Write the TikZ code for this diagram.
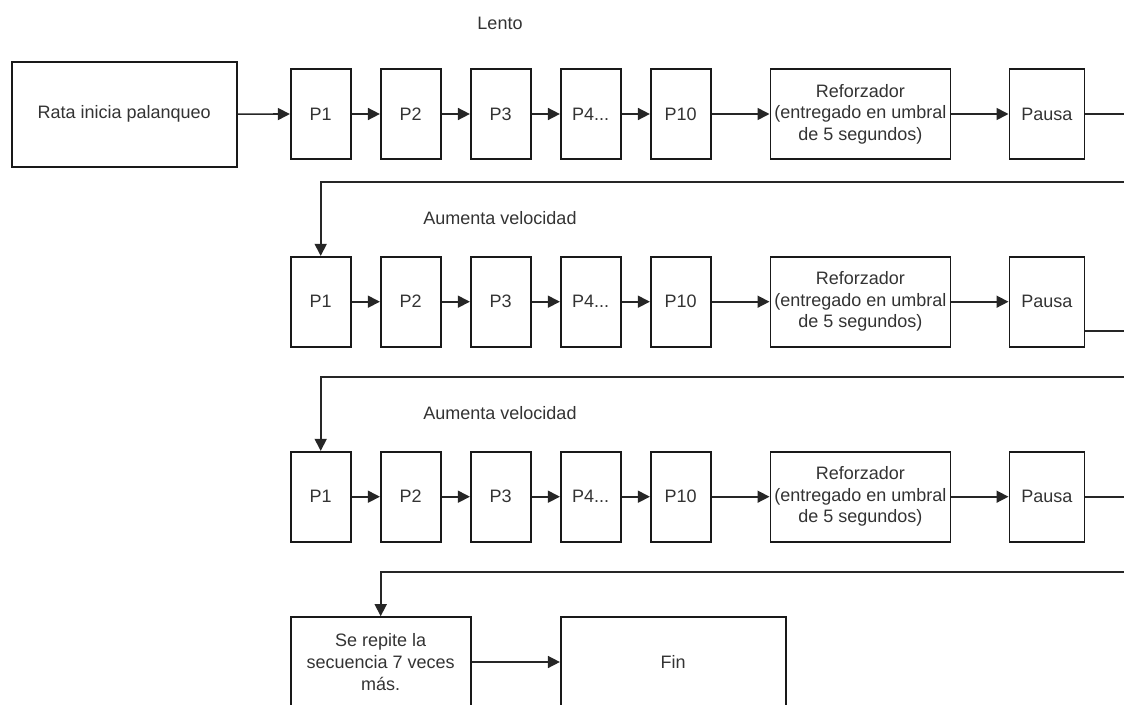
\documentclass[tikz,border=0pt]{standalone}
\usepackage{fontspec}
\setmainfont{Liberation Sans}
\usetikzlibrary{arrows.meta}
\begin{document}
\begin{tikzpicture}[x=1pt,y=-1pt,
  box/.style={draw=black!90, line width=1.6pt, minimum height=90pt, inner sep=0pt,
    font=\fontsize{18}{21.6}\selectfont, text=black!80, align=center},
  pbox/.style={box, minimum width=60pt},
  link/.style={draw=black!85, line width=1.6pt, -{Triangle[length=12pt,width=12pt]}},
  wire/.style={draw=black!85, line width=1.6pt},
  note/.style={font=\fontsize{18}{21.6}\selectfont, text=black!80}]
\useasboundingbox (0,0) rectangle (1124,704);
\clip (0,0) rectangle (1124,704);

% start
\node[box, minimum width=225pt, minimum height=105pt] (rata) at (124.2,114.2) {Rata inicia palanqueo};

% three rows of presses, reinforcer and pause
\foreach \r/\y in {1/114,2/301.7,3/496.7}{
  \node[pbox] (pa\r) at (320.7,\y) {P1};
  \node[pbox] (pb\r) at (410.7,\y) {P2};
  \node[pbox] (pc\r) at (500.7,\y) {P3};
  \node[pbox] (pd\r) at (590.7,\y) {P4...};
  \node[pbox] (pe\r) at (680.7,\y) {P10};
  \node[box, minimum width=180pt] (ref\r) at (860.3,\y) {Reforzador\\(entregado en umbral\\de 5 segundos)};
  \node[box, minimum width=75pt] (pau\r) at (1046.8,\y) {Pausa};
  \draw[link] (pa\r) -- (pb\r);
  \draw[link] (pb\r) -- (pc\r);
  \draw[link] (pc\r) -- (pd\r);
  \draw[link] (pd\r) -- (pe\r);
  \draw[link] (pe\r) -- (ref\r);
  \draw[link] (ref\r) -- (pau\r);
}

% labels above rows
\node[note] (lento) at (500,23) {Lento};
\node[note] (vel2) at (500,218) {Aumenta velocidad};
\node[note] (vel3) at (500,413) {Aumenta velocidad};

% final boxes
\node[box, minimum width=180pt] (rep) at (380.7,662) {Se repite la\\secuencia 7 veces\\más.};
\node[box, minimum width=225pt] (fin) at (673.2,662) {Fin};

% edge coordinates on the right border
\coordinate (e1) at (1124,114);
\coordinate (e2) at (1124,331);
\coordinate (e3) at (1124,496.7);
\coordinate (t1) at (1124,182);
\coordinate (t2) at (1124,376.7);
\coordinate (t3) at (1124,572);

\draw[link] (rata) -- (pa1);
\draw[wire] (pau1) -- (e1);
\draw[wire] ([yshift=-29.3pt]pau2.east) -- (e2);
\draw[wire] (pau3) -- (e3);
\draw[link] (t1) -| (pa2.north);
\draw[link] (t2) -| (pa3.north);
\draw[link] (t3) -| (rep.north);
\draw[link] (rep) -- (fin);
\end{tikzpicture}
\end{document}
